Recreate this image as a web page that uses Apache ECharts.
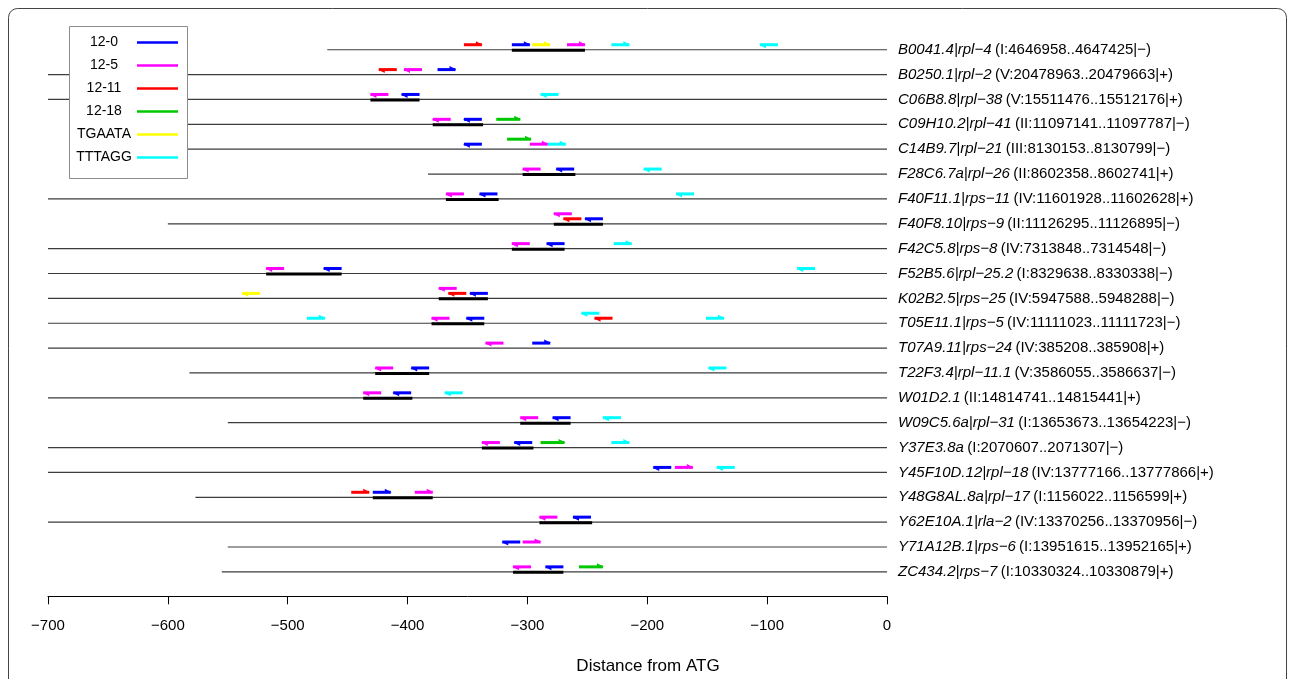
<!DOCTYPE html>
<html>
<head>
<meta charset="utf-8">
<script src="https://cdn.jsdelivr.net/npm/echarts@6/dist/echarts.min.js"></script>
<style>
  html, body { margin: 0; background: #fff; }
  #chart { width: 1295px; height: 679px; }
</style>
</head>
<body>
<div id="chart"></div>
<script>
// rows, top to bottom
const genes = ['B0041.4|rpl−4', 'B0250.1|rpl−2', 'C06B8.8|rpl−38', 'C09H10.2|rpl−41', 'C14B9.7|rpl−21',
  'F28C6.7a|rpl−26', 'F40F11.1|rps−11', 'F40F8.10|rps−9', 'F42C5.8|rps−8', 'F52B5.6|rpl−25.2',
  'K02B2.5|rps−25', 'T05E11.1|rps−5', 'T07A9.11|rps−24', 'T22F3.4|rpl−11.1', 'W01D2.1',
  'W09C5.6a|rpl−31', 'Y37E3.8a', 'Y45F10D.12|rpl−18', 'Y48G8AL.8a|rpl−17', 'Y62E10A.1|rla−2',
  'Y71A12B.1|rps−6', 'ZC434.2|rps−7'];
const loci = ['(I:4646958..4647425|−)', '(V:20478963..20479663|+)', '(V:15511476..15512176|+)',
  '(II:11097141..11097787|−)', '(III:8130153..8130799|−)', '(II:8602358..8602741|+)',
  '(IV:11601928..11602628|+)', '(II:11126295..11126895|−)', '(IV:7313848..7314548|−)',
  '(I:8329638..8330338|−)', '(IV:5947588..5948288|−)', '(IV:11111023..11111723|−)',
  '(IV:385208..385908|+)', '(V:3586055..3586637|−)', '(II:14814741..14815441|+)',
  '(I:13653673..13654223|−)', '(I:2070607..2071307|−)', '(IV:13777166..13777866|+)',
  '(I:1156022..1156599|+)', '(IV:13370256..13370956|−)', '(I:13951615..13952165|+)',
  '(I:10330324..10330879|+)'];

// upstream length drawn for each gene
const upstream = [-467, -700, -700, -646, -646, -383, -700, -600, -700, -700, -700,
  -700, -700, -582, -700, -550, -700, -700, -577, -700, -550, -555];

// thick black regions [from, to]
const regions = [[-313, -252], null, [-431, -390], [-379, -337], null, [-304, -260],
  [-368, -324], [-278, -237], [-313, -269], [-518, -455], [-374, -333], [-380, -336],
  null, [-427, -382], [-437, -396], [-306, -264], [-338, -295], null, [-429, -379],
  [-290, -246], null, [-312, -270]];

// motif sites: [left end, row, direction (1 = right, -1 = left), level (0 low, 1 high)]
const sites12_0 = [[-313, 0, 1, 0], [-375, 1, 1, 0], [-405, 2, -1, 0], [-353, 3, -1, 0],
  [-353, 4, -1, 0], [-276, 5, -1, 0], [-340, 6, -1, 0], [-252, 7, -1, 0], [-284, 8, -1, 0],
  [-470, 9, -1, 0], [-348, 10, -1, 0], [-351, 11, -1, 0], [-296, 12, 1, 0], [-397, 13, -1, 0],
  [-412, 14, -1, 0], [-279, 15, -1, 0], [-311, 16, -1, 0], [-195, 17, -1, 0], [-429, 18, 1, 0],
  [-262, 19, -1, 0], [-321, 20, -1, 0], [-285, 21, -1, 0]];
const sites12_5 = [[-267, 0, 1, 0], [-403, 1, -1, 0], [-431, 2, -1, 0], [-379, 3, -1, 0],
  [-298, 4, 1, 0], [-304, 5, -1, 0], [-368, 6, -1, 0], [-278, 7, -1, 1], [-313, 8, -1, 0],
  [-518, 9, -1, 0], [-374, 10, -1, 1], [-380, 11, -1, 0], [-335, 12, -1, 0], [-427, 13, -1, 0],
  [-437, 14, -1, 0], [-306, 15, -1, 0], [-338, 16, -1, 0], [-177, 17, 1, 0], [-394, 18, 1, 0],
  [-290, 19, -1, 0], [-304, 20, 1, 0], [-312, 21, -1, 0]];
const sites12_11 = [[-353, 0, 1, 0], [-424, 1, -1, 0], [-270, 7, -1, 0], [-366, 10, -1, 0],
  [-244, 11, -1, 0], [-447, 18, 1, 0]];
const sites12_18 = [[-326, 3, 1, 0], [-317, 4, 1, 1], [-289, 16, 1, 0], [-257, 21, 1, 0]];
const sitesTGAATA = [[-296, 0, 1, 0], [-538, 10, -1, 0]];
const sitesTTTAGG = [[-230, 0, 1, 0], [-106, 0, -1, 0], [-289, 2, -1, 0], [-283, 4, 1, 0],
  [-203, 5, -1, 0], [-176, 6, -1, 0], [-228, 8, 1, 0], [-75, 9, -1, 0], [-484, 11, 1, 0],
  [-255, 11, -1, 1], [-151, 11, 1, 0], [-149, 13, -1, 0], [-369, 14, -1, 0], [-237, 15, -1, 0],
  [-230, 16, 1, 0], [-142, 17, -1, 0]];

const motifNames = ['12-0', '12-5', '12-11', '12-18', 'TGAATA', 'TTTAGG'];
const motifSites = [sites12_0, sites12_5, sites12_11, sites12_18, sitesTGAATA, sitesTTTAGG];
const motifLen = [15, 15, 15, 20, 15, 15];
const motifColors = ['#0000ff', '#ff00ff', '#ff0000', '#00c800', '#ffff00', '#00ffff'];

const FONT = '"Liberation Sans", Arial, sans-serif';

function renderBase(params, api) {
  const i = params.dataIndex;
  const y = api.coord([0, i])[1];
  const x0 = api.coord([api.value(0), i])[0];
  const x1 = api.coord([0, i])[0];
  const kids = [{
    type: 'line', shape: { x1: x0, y1: y, x2: x1, y2: y },
    style: { stroke: '#3c3c3c', lineWidth: 1.2 }
  }];
  const r = regions[i];
  if (r) {
    kids.push({
      type: 'line',
      shape: { x1: api.coord([r[0], i])[0], y1: y + 0.5, x2: api.coord([r[1], i])[0], y2: y + 0.5 },
      style: { stroke: '#000', lineWidth: 3 }
    });
  }
  return { type: 'group', children: kids };
}

function arrowRenderer(len, color) {
  return function (params, api) {
    const start = api.value(0), row = api.value(1), dir = api.value(2), lvl = api.value(3);
    const y = api.coord([0, row])[1] - (lvl ? 10 : 5);
    const xa = api.coord([start, row])[0];
    const xb = api.coord([start + len, row])[0];
    const head = dir > 0
      ? [[xb + 1, y], [xb - 6, y - 3.5], [xb - 6, y]]
      : [[xa - 1, y], [xa + 6, y + 3.5], [xa + 6, y]];
    return {
      type: 'group',
      children: [
        { type: 'line', shape: { x1: xa, y1: y, x2: xb, y2: y }, style: { stroke: color, lineWidth: 3 } },
        { type: 'polygon', shape: { points: head }, style: { fill: color } }
      ]
    };
  };
}

const series = [{
  type: 'custom',
  name: 'base',
  renderItem: renderBase,
  encode: { x: 0, y: 1 },
  data: upstream.map((v, i) => [v, i]),
  silent: true,
  z: 1
}];
motifNames.forEach((name, k) => {
  series.push({
    type: 'custom',
    name: name,
    renderItem: arrowRenderer(motifLen[k], motifColors[k]),
    encode: { x: 0, y: 1 },
    itemStyle: { color: motifColors[k] },
    data: motifSites[k],
    silent: true,
    z: 2
  });
});

// legend box drawn as graphics (text centred left of the colour line)
const legendKids = [{
  type: 'rect', z: 100, shape: { x: 69.5, y: 26.5, width: 118, height: 152 },
  style: { fill: '#fff', stroke: '#8c8c8c', lineWidth: 1 }
}];
motifNames.forEach((name, k) => {
  const y = 42.5 + k * 23;
  legendKids.push({
    type: 'text', z: 101, x: 104, y: y,
    style: { text: name, font: '14px ' + FONT, fill: '#000', align: 'center', verticalAlign: 'middle' }
  });
  legendKids.push({
    type: 'line', z: 101, shape: { x1: 137, y1: y, x2: 178, y2: y },
    style: { stroke: motifColors[k], lineWidth: 2.5 }
  });
});

const chart = echarts.init(document.getElementById('chart'), null, { renderer: 'canvas' });
chart.setOption({
  animation: false,
  backgroundColor: '#fff',
  grid: { left: 48, right: 408, top: 37.3, height: 547 },
  xAxis: {
    type: 'value', min: -700, max: 0, interval: 100, offset: 12,
    axisLine: { show: true, lineStyle: { color: '#000', width: 1 } },
    axisTick: { show: true, length: 8, lineStyle: { color: '#000', width: 1 } },
    splitLine: { show: false },
    axisLabel: {
      margin: 22, fontSize: 15, color: '#000', fontFamily: FONT,
      formatter: v => (v < 0 ? '−' + (-v) : String(v))
    }
  },
  yAxis: {
    type: 'category', data: genes, inverse: true, position: 'right',
    axisLine: { show: false }, axisTick: { show: false }, splitLine: { show: false },
    axisLabel: {
      margin: 11, color: '#000',
      formatter: (v, i) => '{g|' + genes[i] + '} {c|' + loci[i] + '}',
      rich: {
        g: { fontStyle: 'italic', fontSize: 15, fontFamily: FONT, color: '#000' },
        c: { fontSize: 15, fontFamily: FONT, color: '#000' }
      }
    }
  },
  graphic: [
    { type: 'group', z: 100, children: legendKids },
    {
      type: 'text', x: 648, y: 666,
      style: { text: 'Distance from ATG', font: '17px ' + FONT, fill: '#000', align: 'center', verticalAlign: 'middle' }
    },
    {
      type: 'rect', silent: true,
      shape: { x: 8.5, y: 8.5, width: 1278, height: 700, r: 9 },
      style: { fill: 'none', stroke: '#444', lineWidth: 1 }
    }
  ],
  series: series
});
</script>
</body>
</html>
